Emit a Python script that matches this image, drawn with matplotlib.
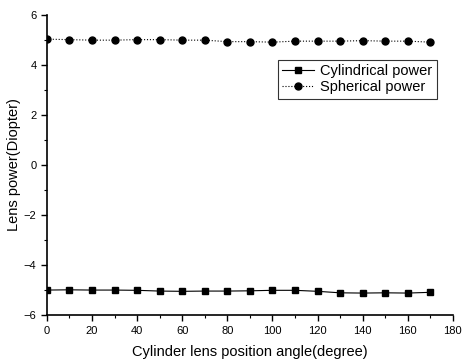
import matplotlib
matplotlib.use("Agg")
import matplotlib.pyplot as plt
from matplotlib.ticker import MultipleLocator

plt.rcParams['font.family'] = ['Liberation Sans', 'DejaVu Sans']

angles = [0, 10, 20, 30, 40, 50, 60, 70, 80, 90, 100, 110, 120, 130, 140, 150, 160, 170]
cylindrical = [-5.00, -4.99, -5.00, -5.00, -5.01, -5.04, -5.05, -5.04, -5.04,
               -5.03, -5.01, -5.01, -5.05, -5.11, -5.12, -5.11, -5.12, -5.09]
spherical = [5.03, 5.01, 4.99, 4.99, 5.01, 5.01, 4.99, 4.99, 4.93,
             4.93, 4.91, 4.95, 4.95, 4.95, 4.97, 4.95, 4.95, 4.91]

fig = plt.figure(figsize=(4.64, 3.63), dpi=100)
ax = fig.add_axes([0.101, 0.132, 0.875, 0.827])

ax.plot(angles, cylindrical, color='black', linestyle='-', linewidth=0.8,
        marker='s', markersize=4.5, label='Cylindrical power')
ax.plot(angles, spherical, color='black', linestyle=':', linewidth=0.8,
        marker='o', markersize=5, label='Spherical power')

ax.set_xlim(0, 180)
ax.set_ylim(-6, 6)
ax.xaxis.set_major_locator(MultipleLocator(20))
ax.xaxis.set_minor_locator(MultipleLocator(10))
ax.yaxis.set_major_locator(MultipleLocator(2))
ax.yaxis.set_minor_locator(MultipleLocator(1))
ax.spines['top'].set_visible(False)
ax.spines['right'].set_visible(False)
ax.spines['left'].set_linewidth(1.2)
ax.spines['bottom'].set_linewidth(1.2)
ax.tick_params(axis='both', which='major', direction='out', length=4, width=1, labelsize=8)
ax.tick_params(axis='both', which='minor', direction='out', length=2, width=0.8)

ax.set_xlabel('Cylinder lens position angle(degree)', fontsize=10.5, labelpad=7)
ax.set_ylabel('Lens power(Diopter)', fontsize=10.5, labelpad=2)

leg = ax.legend(loc='upper right', bbox_to_anchor=(0.96, 0.85), borderaxespad=0,
                fontsize=10.5, frameon=True, fancybox=False, edgecolor='black',
                handlelength=2.2, borderpad=0.3, labelspacing=0.15, handletextpad=0.4)
leg.get_frame().set_linewidth(0.8)

fig.savefig('out.png', dpi=100)
